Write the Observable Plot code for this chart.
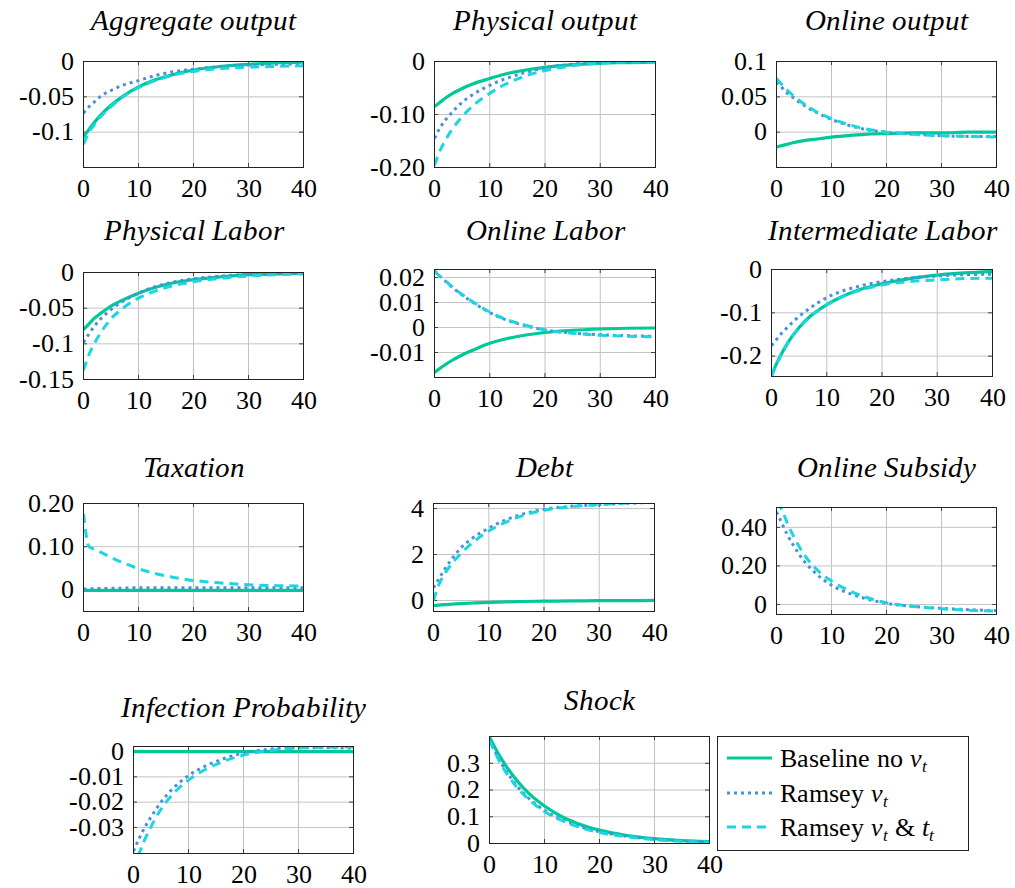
<!DOCTYPE html>
<html>
<head>
<meta charset="utf-8">
<script src="https://cdn.jsdelivr.net/npm/d3@7"></script>
<script src="https://cdn.jsdelivr.net/npm/@observablehq/plot@0.6"></script>
<style>
@font-face { font-family: "ChartSerif"; font-style: normal; font-weight: 400; src: local("Liberation Serif"), local("LiberationSerif"), local("LiberationSerif-Regular"); }
@font-face { font-family: "ChartSerif"; font-style: italic; font-weight: 400; src: local("Liberation Serif Italic"), local("LiberationSerif-Italic"); }
</style>
</head>
<body style="margin:0">
<div id="chartwrap" style="position:relative;width:1015px;height:888px;overflow:hidden;background:#fff"></div>
<script>
// ---------------- data ----------------
const periods = [0, 1, 2, 3, 5, 7, 10, 13, 16, 20, 25, 30, 35, 40];
const xTicks = [0, 10, 20, 30, 40];
const xTickLabels = ["0", "10", "20", "30", "40"];
const seriesNames = ["Baseline no ν_t", "Ramsey ν_t", "Ramsey ν_t & t_t"];

const titles = ["Aggregate output", "Physical output", "Online output", "Physical Labor", "Online Labor",
  "Intermediate Labor", "Taxation", "Debt", "Online Subsidy", "Infection Probability", "Shock"];

const aggBase      = [-0.107,-0.096,-0.086,-0.077,-0.062,-0.050,-0.036,-0.026,-0.019,-0.012,-0.007,-0.004,-0.002,-0.001];
const aggRamsey    = [-0.073,-0.064,-0.057,-0.050,-0.041,-0.034,-0.027,-0.020,-0.015,-0.011,-0.007,-0.005,-0.004,-0.003];
const aggRamseyTax = [-0.117,-0.100,-0.089,-0.079,-0.064,-0.051,-0.037,-0.027,-0.020,-0.014,-0.010,-0.008,-0.007,-0.006];

const physOutBase      = [-0.085,-0.077,-0.069,-0.062,-0.051,-0.042,-0.032,-0.023,-0.017,-0.011,-0.006,-0.003,-0.002,-0.001];
const physOutRamsey    = [-0.145,-0.125,-0.110,-0.098,-0.077,-0.062,-0.045,-0.032,-0.022,-0.012,-0.005,-0.002,-0.001,0];
const physOutRamseyTax = [-0.196,-0.168,-0.148,-0.131,-0.104,-0.083,-0.060,-0.042,-0.029,-0.017,-0.008,-0.003,-0.001,0];

const onOutBase      = [-0.021,-0.019,-0.017,-0.015,-0.012,-0.010,-0.007,-0.005,-0.003,-0.002,-0.001,-0.001,0,0];
const onOutRamsey    = [0.071,0.063,0.055,0.049,0.038,0.029,0.018,0.010,0.004,0.000,-0.003,-0.005,-0.006,-0.006];
const onOutRamseyTax = [0.076,0.067,0.059,0.052,0.040,0.030,0.019,0.011,0.005,0.000,-0.003,-0.005,-0.006,-0.007];

const physLabBase      = [-0.080,-0.072,-0.064,-0.058,-0.047,-0.039,-0.029,-0.021,-0.015,-0.010,-0.006,-0.003,-0.002,-0.001];
const physLabRamsey    = [-0.098,-0.086,-0.075,-0.066,-0.052,-0.041,-0.029,-0.020,-0.014,-0.009,-0.005,-0.003,-0.002,-0.001];
const physLabRamseyTax = [-0.137,-0.115,-0.099,-0.086,-0.065,-0.051,-0.036,-0.026,-0.019,-0.013,-0.008,-0.005,-0.003,-0.002];

const onLabBase      = [-0.0180,-0.0163,-0.0148,-0.0134,-0.0110,-0.0090,-0.0063,-0.0045,-0.0032,-0.0020,-0.0011,-0.0006,-0.0003,-0.0002];
const onLabRamsey    = [0.0228,0.0205,0.0185,0.0165,0.0130,0.0100,0.0060,0.0030,0.0010,-0.0010,-0.0022,-0.0029,-0.0033,-0.0035];
const onLabRamseyTax = [0.0225,0.0204,0.0186,0.0167,0.0132,0.0102,0.0062,0.0032,0.0012,-0.0010,-0.0023,-0.0031,-0.0035,-0.0037];

const intLabBase      = [-0.245,-0.215,-0.190,-0.168,-0.134,-0.108,-0.081,-0.061,-0.046,-0.033,-0.021,-0.013,-0.008,-0.005];
const intLabRamsey    = [-0.176,-0.160,-0.145,-0.132,-0.108,-0.089,-0.065,-0.049,-0.038,-0.028,-0.020,-0.015,-0.012,-0.011];
const intLabRamseyTax = [-0.247,-0.216,-0.191,-0.169,-0.135,-0.109,-0.082,-0.062,-0.048,-0.036,-0.028,-0.024,-0.021,-0.020];

const taxBase      = [-0.001,-0.001,-0.001,-0.001,-0.001,-0.001,-0.001,-0.001,-0.001,-0.001,-0.001,-0.001,-0.001,-0.001];
const taxRamsey    = [0.002,0.002,0.003,0.003,0.004,0.004,0.005,0.005,0.005,0.005,0.005,0.005,0.005,0.005];
const taxRamseyTax = [0.176,0.100,0.094,0.088,0.075,0.064,0.049,0.038,0.030,0.022,0.016,0.012,0.010,0.009];

const debtBase      = [-0.22,-0.20,-0.18,-0.165,-0.14,-0.11,-0.08,-0.06,-0.045,-0.03,-0.02,-0.01,-0.005,0];
const debtRamsey    = [0.55,0.95,1.35,1.70,2.30,2.70,3.15,3.50,3.75,3.97,4.10,4.17,4.23,4.27];
const debtRamseyTax = [0.0,0.70,1.15,1.50,2.05,2.50,3.02,3.40,3.68,3.93,4.08,4.17,4.24,4.29];

const subRamsey    = [0.48,0.42,0.36,0.31,0.225,0.165,0.100,0.060,0.032,0.006,-0.010,-0.020,-0.027,-0.032];
const subRamseyTax = [0.53,0.49,0.42,0.36,0.26,0.19,0.122,0.075,0.040,0.009,-0.010,-0.022,-0.030,-0.035];

const infBase      = [0,0,0,0,0,0,0,0,0,0,0,0,0,0];
const infRamsey    = [-0.0394,-0.0345,-0.0302,-0.0265,-0.0200,-0.0150,-0.0095,-0.0058,-0.0031,-0.0006,0.0010,0.0015,0.0015,0.0013];
const infRamseyTax = [-0.047,-0.0405,-0.0350,-0.0305,-0.0228,-0.0172,-0.0113,-0.0072,-0.0042,-0.0014,0.0005,0.0014,0.0017,0.0018];

const shockBase      = [0.398,0.358,0.322,0.290,0.235,0.190,0.140,0.102,0.075,0.050,0.030,0.018,0.011,0.007];
const shockRamsey    = [0.390,0.345,0.305,0.272,0.215,0.172,0.124,0.090,0.066,0.044,0.027,0.016,0.010,0.006];
const shockRamseyTax = [0.385,0.340,0.300,0.266,0.210,0.167,0.120,0.087,0.063,0.041,0.025,0.014,0.008,0.005];

// y-axis ticks and labels per panel
const yTicks = [
  [0, -0.05, -0.1], [0, -0.1, -0.2], [0.1, 0.05, 0],
  [0, -0.05, -0.1, -0.15], [0.02, 0.01, 0, -0.01], [0, -0.1, -0.2],
  [0.2, 0.1, 0], [4, 2, 0], [0.4, 0.2, 0],
  [0, -0.01, -0.02, -0.03], [0.3, 0.2, 0.1, 0]
];
const yTickLabels = [
  ["0", "-0.05", "-0.1"], ["0", "-0.10", "-0.20"], ["0.1", "0.05", "0"],
  ["0", "-0.05", "-0.1", "-0.15"], ["0.02", "0.01", "0", "-0.01"], ["0", "-0.1", "-0.2"],
  ["0.20", "0.10", "0"], ["4", "2", "0"], ["0.40", "0.20", "0"],
  ["0", "-0.01", "-0.02", "-0.03"], ["0.3", "0.2", "0.1", "0"]
];
const yDomains = [
  [-0.15, 0], [-0.2, 0], [-0.05, 0.1],
  [-0.15, 0], [-0.02, 0.0232], [-0.247, 0],
  [-0.05, 0.2], [-0.48, 4.22], [-0.052, 0.503],
  [-0.0403, 0.002], [0, 0.4]
];
const panelSeries = [
  [aggBase, aggRamsey, aggRamseyTax],
  [physOutBase, physOutRamsey, physOutRamseyTax],
  [onOutBase, onOutRamsey, onOutRamseyTax],
  [physLabBase, physLabRamsey, physLabRamseyTax],
  [onLabBase, onLabRamsey, onLabRamseyTax],
  [intLabBase, intLabRamsey, intLabRamseyTax],
  [taxBase, taxRamsey, taxRamseyTax],
  [debtBase, debtRamsey, debtRamseyTax],
  [null, subRamsey, subRamseyTax],
  [infBase, infRamsey, infRamseyTax],
  [shockBase, shockRamsey, shockRamseyTax]
];

// ---------------- layout (frame left, top, width, height, title centre y) ----------------
const layout = [
  {left: 83, top: 61, w: 220, h: 106, ty: 20},
  {left: 434, top: 61, w: 221, h: 106, ty: 20},
  {left: 776, top: 61, w: 220, h: 106, ty: 20},
  {left: 83, top: 272, w: 220, h: 107, ty: 230},
  {left: 434, top: 269, w: 221, h: 108, ty: 230},
  {left: 771, top: 269, w: 221, h: 107, ty: 230},
  {left: 83, top: 503, w: 220, h: 108, ty: 467},
  {left: 433, top: 503, w: 221, h: 108, ty: 467},
  {left: 776, top: 507, w: 220, h: 107, ty: 467},
  {left: 133, top: 746, w: 220, h: 107, ty: 707},
  {left: 489, top: 736, w: 220, h: 107, ty: 700}
];

const styles = [
  {stroke: "#00c896", strokeWidth: 3.2},
  {stroke: "#4a8fdc", strokeWidth: 3, strokeDasharray: "3,4"},
  {stroke: "#1ad6e0", strokeWidth: 3, strokeDasharray: "9,6"}
];

const FONT = "ChartSerif, 'Liberation Serif', 'Times New Roman', serif";
const wrap = document.getElementById("chartwrap");
const ML = 80, MR = 25, MB = 40;

layout.forEach((L, k) => {
  const MT = L.top - L.ty + 22;
  const ticks = yTicks[k], labels = yTickLabels[k];
  const yRows = ticks.map((v, i) => ({v, label: labels[i]}));
  const xRows = xTicks.map((v, i) => ({v, label: xTickLabels[i]}));
  const lineMarks = [];
  panelSeries[k].forEach((vals, si) => {
    if (!vals) return;
    const rows = vals.map((v, i) => ({t: periods[i], v, series: seriesNames[si]}));
    lineMarks.push(Plot.line(rows, {x: "t", y: "v", curve: "monotone-x", clip: true,
      strokeLinecap: "butt", strokeLinejoin: "round", ...styles[si]}));
  });
  const svg = Plot.plot({
    width: L.w + ML + MR, height: L.h + MT + MB,
    marginLeft: ML, marginRight: MR, marginTop: MT, marginBottom: MB,
    style: {background: "transparent", overflow: "visible"},
    x: {domain: [0, 40], axis: null},
    y: {domain: yDomains[k], axis: null},
    marks: [
      Plot.gridX([10, 20, 30], {stroke: "#c4c4c4", strokeOpacity: 1, strokeWidth: 1}),
      Plot.gridY(ticks, {stroke: "#c4c4c4", strokeOpacity: 1, strokeWidth: 1}),
      Plot.ruleY(ticks, {stroke: "#444", insetRight: L.w - 4}),
      Plot.ruleY(ticks, {stroke: "#444", insetLeft: L.w - 4}),
      Plot.ruleX([10, 20, 30], {stroke: "#444", insetTop: L.h - 4}),
      Plot.ruleX([10, 20, 30], {stroke: "#444", insetBottom: L.h - 4}),
      ...lineMarks,
      Plot.frame({stroke: "#222", strokeWidth: 1}),
      Plot.text(yRows, {y: "v", text: "label", frameAnchor: "left", textAnchor: "end", lineAnchor: "middle",
        dx: -10, fontSize: 26, fontFamily: FONT, fill: "#000"}),
      Plot.text(xRows, {x: "v", text: "label", frameAnchor: "bottom", lineAnchor: "top",
        dy: 11, fontSize: 26, fontFamily: FONT, fill: "#000"}),
      Plot.text([titles[k]], {text: d => d, frameAnchor: "top", lineAnchor: "middle", dy: L.ty - L.top,
        fontSize: 28.5, fontStyle: "italic", fontFamily: FONT, fill: "#000"})
    ]
  });
  svg.style.position = "absolute";
  svg.style.left = (L.left - ML) + "px";
  svg.style.top = (L.top - MT) + "px";
  wrap.appendChild(svg);
});

// ---------------- legend ----------------
const legendRows = [
  {y: 22, parts: [["Baseline no ", 0], ["ν", 1], ["t", 2]]},
  {y: 57, parts: [["Ramsey ", 0], ["ν", 1], ["t", 2]]},
  {y: 91, parts: [["Ramsey ", 0], ["ν", 1], ["t", 2], [" & ", 0], ["t", 1], ["t", 2]]}
];
const leg = d3.create("svg").attr("width", 252).attr("height", 115)
  .style("position", "absolute").style("left", "717px").style("top", "736px").style("overflow", "visible");
leg.append("rect").attr("x", 0.5).attr("y", 0.5).attr("width", 251).attr("height", 114)
  .attr("fill", "#fff").attr("stroke", "#222");
legendRows.forEach((r, i) => {
  const s = styles[i];
  const ln = leg.append("line").attr("x1", 10).attr("x2", 55).attr("y1", r.y).attr("y2", r.y)
    .attr("stroke", s.stroke).attr("stroke-width", s.strokeWidth);
  if (s.strokeDasharray) ln.attr("stroke-dasharray", s.strokeDasharray);
  const txt = leg.append("text").attr("x", 63).attr("y", r.y + 8.5)
    .attr("font-family", FONT).attr("font-size", 26).attr("fill", "#000");
  let lowered = false;
  r.parts.forEach(([str, kind]) => {
    const ts = txt.append("tspan").text(str);
    if (kind === 2) {
      ts.attr("font-style", "italic").attr("font-size", 17).attr("dy", 5);
      lowered = true;
    } else {
      if (lowered) { ts.attr("dy", -5); lowered = false; }
      if (kind === 1) ts.attr("font-style", "italic");
    }
    ts.style("white-space", "pre");
  });
});
wrap.appendChild(leg.node());
</script>
</body>
</html>
